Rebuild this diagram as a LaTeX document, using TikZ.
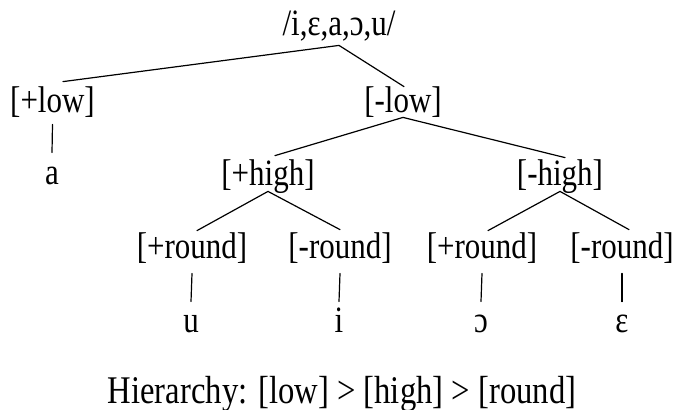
\documentclass[tikz,border=0pt]{standalone}
\usepackage{graphicx}
\usepackage{fontspec}
\setmainfont{Liberation Serif}
\newcommand{\cnd}[1]{\scalebox{0.833}[1]{#1}}
\begin{document}
\begin{tikzpicture}[x=0.5pt,y=-0.5pt,
  tn/.style={inner sep=0pt,anchor=base,text height=14pt,text depth=4.65pt,font=\fontsize{18.6}{22}\selectfont},
  edge/.style={line width=0.6pt,line cap=round}]
\useasboundingbox (0,0) rectangle (676,409);
% nodes
\node[tn] (root) at (339,35) {\cnd{/i,ɛ,a,ɔ,u/}};
\node[tn] (lowp) at (52.5,112) {\cnd{[+low]}};
\node[tn] (lowm) at (403,112) {\cnd{[-low]}};
\node[tn] (a) at (52,184) {\cnd{a}};
\node[tn] (highp) at (268,185) {\cnd{[+high]}};
\node[tn] (highm) at (560,185) {\cnd{[-high]}};
\node[tn] (rp1) at (192,258) {\cnd{[+round]}};
\node[tn] (rm1) at (340,258) {\cnd{[-round]}};
\node[tn] (rp2) at (482,258) {\cnd{[+round]}};
\node[tn] (rm2) at (622,258) {\cnd{[-round]}};
\node[tn] (u) at (191,332) {\cnd{u}};
\node[tn] (i) at (339,332) {\cnd{i}};
\node[tn] (o) at (481,332) {\cnd{ɔ}};
\node[tn] (e) at (622,332) {\cnd{ɛ}};
\node[inner sep=0pt,anchor=base,font=\fontsize{19.6}{23}\selectfont] (hier) at (342,403) {\cnd{Hierarchy: [low] > [high] > [round]}};
% connectors
\draw[edge] ([yshift=-0.35pt]root.south) -- ([xshift=5.25pt,yshift=1pt]lowp.north);
\draw[edge] ([yshift=-0.35pt]root.south) -- ([xshift=0.5pt,yshift=-1.5pt]lowm.north);
\draw[edge] ([yshift=-1.35pt]lowp.south) -- ([yshift=1.5pt]a.north);
\draw[edge] ([yshift=2.15pt]lowm.south) -- ([xshift=3.5pt,yshift=0.5pt]highp.north);
\draw[edge] ([yshift=2.15pt]lowm.south) -- ([xshift=2.5pt,yshift=-0.5pt]highm.north);
\draw[edge] ([yshift=1.65pt]highp.south) -- ([xshift=2.5pt,yshift=-0.5pt]rp1.north);
\draw[edge] ([yshift=1.65pt]highp.south) -- (rm1.north);
\draw[edge] ([yshift=1.65pt]highm.south) -- ([xshift=3pt,yshift=-0.5pt]rp2.north);
\draw[edge] ([yshift=1.65pt]highm.south) -- ([xshift=3.5pt]rm2.north);
\draw[edge] ([yshift=-2.85pt]rp1.south) -- ([yshift=1pt]u.north);
\draw[edge] ([yshift=-2.85pt]rm1.south) -- ([yshift=1pt]i.north);
\draw[edge] ([yshift=-2.85pt]rp2.south) -- ([yshift=1pt]o.north);
\draw[edge] ([yshift=-2.85pt]rm2.south) -- ([yshift=1pt]e.north);
\end{tikzpicture}
\end{document}
